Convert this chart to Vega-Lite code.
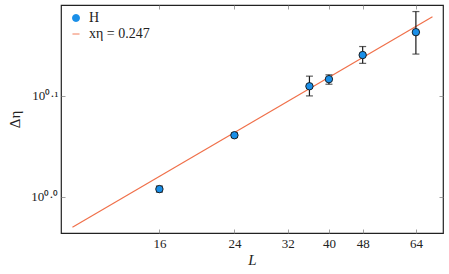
{
  "$schema": "https://vega.github.io/schema/vega-lite/v6.json",
  "width": 382,
  "height": 228,
  "autosize": "none",
  "padding": {"left": 61, "top": 5, "right": 6, "bottom": 41},
  "background": "white",
  "config": {
    "font": "Liberation Serif, serif",
    "view": {"stroke": "#222222", "strokeWidth": 1.2},
    "axis": {"labelFont": "Liberation Serif, serif", "titleFont": "Liberation Serif, serif", "labelFontSize": 13, "titleFontSize": 15, "labelColor": "#222", "titleColor": "#222", "grid": false, "domain": false, "tickColor": "#888", "tickSize": -4, "tickWidth": 0.8},
    "legend": {"labelFont": "Liberation Serif, serif"}
  },
  "datasets": {
    "pts": [
      {"L": 16, "d": 1.018, "lo": 1.011, "hi": 1.025, "series": "H"},
      {"L": 24, "d": 1.151, "lo": 1.145, "hi": 1.157, "series": "H"},
      {"L": 36, "d": 1.287, "lo": 1.259, "hi": 1.317, "series": "H"},
      {"L": 40, "d": 1.308, "lo": 1.293, "hi": 1.321, "series": "H"},
      {"L": 48, "d": 1.382, "lo": 1.356, "hi": 1.409, "series": "H"},
      {"L": 64, "d": 1.456, "lo": 1.385, "hi": 1.526, "series": "H"}
    ],
    "fit": [
      {"L": 10, "d": 0.933, "series": "xη = 0.247"},
      {"L": 70, "d": 1.508, "series": "xη = 0.247"}
    ]
  },
  "layer": [
    {
      "data": {"name": "fit"},
      "mark": {"type": "line", "strokeWidth": 1.2, "clip": true},
      "encoding": {
        "x": {"field": "L", "type": "quantitative", "scale": {"type": "log", "domain": [9.4, 74.1], "nice": false, "zero": false},
              "axis": {"orient": "top", "values": [16, 24, 32, 40, 48, 64], "labels": false, "title": null}},
        "y": {"field": "d", "type": "quantitative", "scale": {"type": "log", "domain": [0.921, 1.549], "nice": false, "zero": false},
              "axis": {"orient": "right", "values": [1, 1.258925], "labels": false, "title": null}},
        "color": {"field": "series", "type": "nominal",
                  "scale": {"domain": ["H", "xη = 0.247"], "range": ["#1a8fe8", "#f0704a"]}}
      }
    },
    {
      "data": {"name": "pts"},
      "mark": {"type": "rule", "color": "#1a1a1a", "strokeWidth": 1.2},
      "encoding": {
        "x": {"field": "L", "type": "quantitative", "scale": {"type": "log", "domain": [9.4, 74.1], "nice": false, "zero": false},
              "axis": {"orient": "bottom", "values": [16, 24, 32, 40, 48, 64], "title": "L", "titleFontStyle": "italic", "titleFontWeight": "normal", "labelPadding": 8, "titlePadding": 2}},
        "y": {"field": "lo", "type": "quantitative", "scale": {"type": "log", "domain": [0.921, 1.549], "nice": false, "zero": false},
              "axis": {"orient": "left", "values": [1, 1.258925], "labelExpr": "datum.value < 1.1 ? '10⁰·⁰' : '10⁰·¹'", "title": "Δη", "titleFontWeight": "normal", "labelPadding": 7, "titlePadding": 8}},
        "y2": {"field": "hi"}
      }
    },
    {
      "data": {"name": "pts"},
      "mark": {"type": "tick", "orient": "horizontal", "color": "#1a1a1a", "size": 7, "thickness": 1.2},
      "encoding": {
        "x": {"field": "L", "type": "quantitative", "scale": {"type": "log", "domain": [9.4, 74.1], "nice": false, "zero": false}, "axis": null},
        "y": {"field": "lo", "type": "quantitative", "scale": {"type": "log", "domain": [0.921, 1.549], "nice": false, "zero": false}, "axis": null}
      }
    },
    {
      "data": {"name": "pts"},
      "mark": {"type": "tick", "orient": "horizontal", "color": "#1a1a1a", "size": 7, "thickness": 1.2},
      "encoding": {
        "x": {"field": "L", "type": "quantitative", "scale": {"type": "log", "domain": [9.4, 74.1], "nice": false, "zero": false}, "axis": null},
        "y": {"field": "hi", "type": "quantitative", "scale": {"type": "log", "domain": [0.921, 1.549], "nice": false, "zero": false}, "axis": null}
      }
    },
    {
      "data": {"name": "pts"},
      "mark": {"type": "point", "filled": true, "size": 55, "stroke": "#111", "strokeWidth": 0.9, "opacity": 1},
      "encoding": {
        "x": {"field": "L", "type": "quantitative", "scale": {"type": "log", "domain": [9.4, 74.1], "nice": false, "zero": false}, "axis": null},
        "y": {"field": "d", "type": "quantitative", "scale": {"type": "log", "domain": [0.921, 1.549], "nice": false, "zero": false}, "axis": null},
        "color": {"field": "series", "type": "nominal",
                  "scale": {"domain": ["H", "xη = 0.247"], "range": ["#1a8fe8", "#f0704a"]},
                  "legend": {"orient": "none", "legendX": 8, "legendY": 6, "title": null, "labelFontSize": 14, "labelColor": "#222", "symbolSize": 50, "rowPadding": 2, "labelOffset": 6, "symbolStrokeColor": "#111", "symbolStrokeWidth": 0.9,
                    "encode": {"symbols": {"update": {"stroke": {"signal": "datum.value === 'H' ? '#111' : '#f0704a'"}, "strokeWidth": {"signal": "datum.value === 'H' ? 0.9 : 1.4"}, "size": {"signal": "datum.value === 'H' ? 50 : 220"}}}}}},
        "shape": {"field": "series", "type": "nominal",
                  "scale": {"domain": ["H", "xη = 0.247"], "range": ["circle", "stroke"]}}
      }
    }
  ],
  "resolve": {"axis": {"x": "independent", "y": "independent"}}
}
